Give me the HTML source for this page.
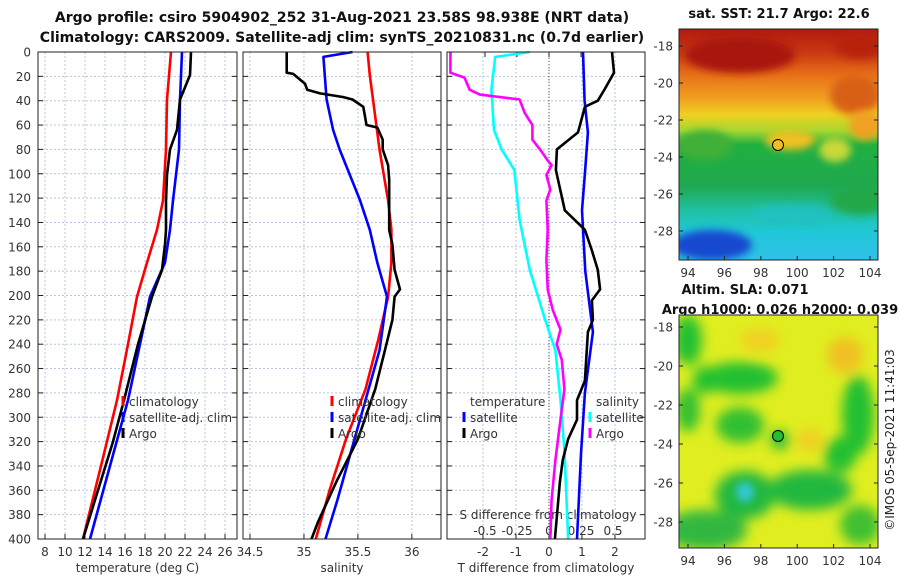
<!DOCTYPE html>
<html><head><meta charset="utf-8"><style>
body{margin:0;background:#fff;width:900px;height:580px;overflow:hidden}
svg{display:block;font-family:"DejaVu Sans","Liberation Sans",sans-serif}
.t{font-size:12px;fill:#333}
</style></head><body>
<svg id="c" width="900" height="580">
<defs>
<filter id="bl" x="-50%" y="-50%" width="200%" height="200%"><feGaussianBlur stdDeviation="6"/></filter>
<filter id="bl2" x="-50%" y="-50%" width="200%" height="200%"><feGaussianBlur stdDeviation="4"/></filter>
<clipPath id="m1"><rect x="679" y="29" width="199" height="231"/></clipPath>
<clipPath id="m2"><rect x="679" y="315" width="199" height="233"/></clipPath>
<linearGradient id="sst" x1="0" y1="0" x2="0" y2="1">
<stop offset="0" stop-color="#b01a10"/><stop offset="0.1" stop-color="#c83812"/><stop offset="0.2" stop-color="#e87018"/>
<stop offset="0.3" stop-color="#f0a020"/><stop offset="0.37" stop-color="#f0d020"/><stop offset="0.44" stop-color="#a8d830"/>
<stop offset="0.5" stop-color="#20b040"/><stop offset="0.68" stop-color="#20a850"/><stop offset="0.78" stop-color="#20c0a0"/>
<stop offset="0.88" stop-color="#20c8d8"/><stop offset="1" stop-color="#30c0e8"/>
</linearGradient>
</defs>
<text x="342" y="22" font-size="14" font-weight="bold" text-anchor="middle" fill="#111">Argo profile: csiro 5904902_252 31-Aug-2021 23.58S 98.938E (NRT data)</text>
<text x="342" y="42" font-size="14" font-weight="bold" text-anchor="middle" fill="#111">Climatology: CARS2009. Satellite-adj clim: synTS_20210831.nc (0.7d earlier)</text>

<g>
<text x="779" y="18" font-size="13" font-weight="bold" text-anchor="middle" fill="#111">sat. SST: 21.7 Argo: 22.6</text>
<g clip-path="url(#m1)">
<rect x="679" y="29" width="199" height="231" fill="url(#sst)"/>
<ellipse cx="740" cy="55" rx="55" ry="18" fill="#a81810" filter="url(#bl2)"/>
<ellipse cx="860" cy="45" rx="25" ry="14" fill="#b82010" filter="url(#bl2)"/>
<ellipse cx="855" cy="95" rx="25" ry="20" fill="#d86018" filter="url(#bl2)"/>
<ellipse cx="705" cy="145" rx="28" ry="15" fill="#40b038" filter="url(#bl2)"/>
<ellipse cx="790" cy="140" rx="25" ry="10" fill="#f0c020" filter="url(#bl2)"/>
<ellipse cx="835" cy="150" rx="16" ry="12" fill="#c8d838" filter="url(#bl2)"/>
<ellipse cx="865" cy="125" rx="16" ry="15" fill="#f0a020" filter="url(#bl2)"/>
<ellipse cx="860" cy="200" rx="30" ry="15" fill="#20a848" filter="url(#bl2)"/>
<ellipse cx="712" cy="245" rx="40" ry="15" fill="#1848d0" filter="url(#bl2)"/>
<ellipse cx="790" cy="215" rx="40" ry="10" fill="#20c0c0" filter="url(#bl2)"/>
</g>
<rect x="679" y="29" width="199" height="231" fill="none" stroke="#222"/>
<circle cx="778" cy="145" r="5.5" fill="#f0c020" stroke="#000"/>
</g>

<g>
<text x="745" y="294" font-size="13" font-weight="bold" text-anchor="middle" fill="#111">Altim. SLA: 0.071</text>
<text x="780" y="314" font-size="13" font-weight="bold" text-anchor="middle" fill="#111">Argo h1000: 0.026 h2000: 0.039</text>
<g clip-path="url(#m2)">
<rect x="679" y="315" width="199" height="233" fill="#e0ee20"/>
<g filter="url(#bl)">
<ellipse cx="688" cy="340" rx="14" ry="25" fill="#20c030"/>
<ellipse cx="740" cy="378" rx="38" ry="16" fill="#20c030"/>
<ellipse cx="705" cy="380" rx="12" ry="14" fill="#20c030"/>
<ellipse cx="688" cy="410" rx="12" ry="22" fill="#30c030"/>
<ellipse cx="740" cy="425" rx="24" ry="18" fill="#30c030"/>
<ellipse cx="858" cy="415" rx="16" ry="40" fill="#20c030"/>
<ellipse cx="840" cy="455" rx="16" ry="18" fill="#20c030"/>
<ellipse cx="745" cy="495" rx="30" ry="24" fill="#20b840"/>
<ellipse cx="810" cy="490" rx="42" ry="20" fill="#20b840"/>
<ellipse cx="705" cy="530" rx="42" ry="20" fill="#30b840"/>
<ellipse cx="860" cy="525" rx="20" ry="20" fill="#40c030"/>
<ellipse cx="780" cy="440" rx="10" ry="10" fill="#30c030"/>
<ellipse cx="845" cy="355" rx="18" ry="18" fill="#f0c020"/>
<ellipse cx="760" cy="340" rx="20" ry="12" fill="#f0d020"/>
<ellipse cx="810" cy="440" rx="14" ry="12" fill="#f0d020"/>
</g>
<ellipse cx="745" cy="492" rx="9" ry="10" fill="#30c8d0" filter="url(#bl2)"/>
</g>
<rect x="679" y="315" width="199" height="233" fill="none" stroke="#222"/>
<circle cx="778" cy="436" r="5.5" fill="#20c030" stroke="#000"/>
</g>
<text transform="translate(894,440) rotate(-90)" font-size="12" text-anchor="middle" fill="#222">©IMOS 05-Sep-2021 11:41:03</text>
</svg>
<script>
// ---- data (depth in m) ----
const depthTicks=[0,20,40,60,80,100,120,140,160,180,200,220,240,260,280,300,320,340,360,380,400];
const tTickLabels=[8,10,12,14,16,18,20,22,24,26];
const sTickLabels=[34.5,35,35.5,36];
const dTTicks=[-2,-1,0,1,2];
const dSTicks=[-0.5,-0.25,0,0.25,0.5];
const dSTickText=["-0.5","-0.25","0","0.25","0.5"];
const latTicks=[-18,-20,-22,-24,-26,-28];
const lonTicks=[94,96,98,100,102,104];

const tClimDepth=[0,39,80,122,134,146,173,201,240,286,340,400];
const tClim=[20.6,20.2,20.1,19.8,19.5,19.2,18.2,17.2,16.3,15.2,13.6,11.8];
const tSatDepth=[0,39,80,122,146,173,201,240,286,340,400];
const tSat=[21.7,21.5,21.4,20.8,20.5,20.0,18.5,17.5,16.3,14.5,12.5];
const tArgoDepth=[0,19,39,64,80,101,122,146,158,179,201,240,286,320,360,400];
const tArgo=[22.6,22.5,21.5,21.2,20.5,20.2,20.1,20.1,20.0,19.7,18.7,17.3,15.9,14.8,13.3,11.8];

const sClimDepth=[0,19,39,80,122,146,173,201,236,277,318,359,400];
const sClim=[35.59,35.61,35.64,35.70,35.78,35.81,35.81,35.78,35.69,35.57,35.39,35.24,35.11];
const sSatDepth=[0,4,39,64,80,122,146,173,201,245,286,327,368,400];
const sSat=[35.45,35.18,35.21,35.27,35.33,35.52,35.61,35.68,35.77,35.70,35.57,35.44,35.31,35.20];
const sArgoDepth=[0,17,18,26,31,34,37,39,45,60,62,72,80,93,105,146,158,179,195,201,220,245,277,318,353,386,400];
const sArgo=[34.84,34.84,34.90,35.01,35.03,35.15,35.36,35.45,35.55,35.58,35.68,35.73,35.73,35.78,35.79,35.79,35.82,35.84,35.89,35.84,35.82,35.75,35.66,35.50,35.30,35.13,35.07];

const dTSatDepth=[0,40,66,100,130,180,230,280,330,400];
const dTSat=[1.03,1.08,1.18,1.09,1.0,1.1,1.33,1.09,0.97,0.85];
const dTArgoDepth=[0,17,30,40,45,66,80,97,130,146,163,179,195,204,220,230,270,286,302,318,335,353,400];
const dTArgo=[1.91,1.97,1.70,1.48,1.09,0.88,0.24,0.21,0.48,1.09,1.30,1.48,1.55,1.30,1.33,1.18,1.09,0.85,0.85,0.58,0.42,0.33,0.18];
const dSSatDepth=[0,4,31,64,80,97,138,179,220,245,286,327,400];
const dSSat=[-0.15,-0.42,-0.45,-0.43,-0.37,-0.27,-0.23,-0.15,-0.03,0.05,0.09,0.12,0.15];
const dSArgoDepth=[0,7,17,21,31,35,39,50,60,72,80,89,93,101,113,122,146,171,195,212,228,240,253,277,302,335,368,400];
const dSArgo=[-0.77,-0.77,-0.77,-0.66,-0.62,-0.54,-0.23,-0.19,-0.13,-0.13,-0.07,-0.01,0.02,-0.02,0.01,-0.02,-0.01,-0.02,-0.01,0.03,0.09,0.06,0.10,0.12,0.09,0.05,0.02,0.01];

const NS='http://www.w3.org/2000/svg';
const svg=document.getElementById('c');
function mk(tag,at,parent){const e=document.createElementNS(NS,tag);for(const k in at)e.setAttribute(k,at[k]);(parent||svg).appendChild(e);return e;}
const Y0=52,Y1=539;
const yD=d=>Y0+(d/400)*(Y1-Y0);
const panels=[
 {x0:38,x1:237,v0:7.3,v1:27.2,ticks:tTickLabels,label:'temperature (deg C)',name:'temperature-panel'},
 {x0:243,x1:441,v0:34.435,v1:36.27,ticks:sTickLabels,label:'salinity',name:'salinity-panel'},
 {x0:447,x1:645,v0:-3.09,v1:2.91,ticks:dTTicks,label:'T difference from climatology',name:'difference-panel'}
];
panels.forEach(p=>{p.xs=v=>p.x0+(v-p.v0)/(p.v1-p.v0)*(p.x1-p.x0);});
const dS=v=>549+v*128;

panels.forEach(p=>{
 const g=mk('g',{});
 
 
 depthTicks.forEach(d=>{ if(d>0&&d<400){const l=mk('line',{x1:p.x0,x2:p.x1,y1:yD(d),y2:yD(d),stroke:'#b8c4e0','stroke-width':1,'stroke-dasharray':'2,2'},g);
   
   }
   mk('line',{x1:p.x0,x2:p.x0+5,y1:yD(d),y2:yD(d),stroke:'#222'},g);
   mk('line',{x1:p.x1,x2:p.x1-5,y1:yD(d),y2:yD(d),stroke:'#222'},g);});
 p.ticks.forEach(v=>{const x=p.xs(v);
   if(x>p.x0+1&&x<p.x1-1){const l=mk('line',{x1:x,x2:x,y1:Y0,y2:Y1,stroke:'#b8c4e0','stroke-dasharray':'2,2'},g);
   
   }
   mk('line',{x1:x,x2:x,y1:Y1,y2:Y1-5,stroke:'#222'},g);
   const t=mk('text',{x:x,y:556,'text-anchor':'middle',class:'t'},g);t.textContent=v;
   
   });
 const lb=mk('text',{x:(p.x0+p.x1)/2,y:572,'text-anchor':'middle',class:'t'},g);lb.textContent=p.label;
 
 
});
depthTicks.forEach(d=>{const t=mk('text',{x:31,y:yD(d)+4.5,'text-anchor':'end',class:'t'});t.textContent=d;
 
 });
const zl=mk('line',{x1:549,x2:549,y1:Y0,y2:Y1,stroke:'#555','stroke-dasharray':'1,2'});


dSTicks.forEach((v,i)=>{const t=mk('text',{x:dS(v),y:535,'text-anchor':'middle',class:'t'});t.textContent=dSTickText[i];
 
 
 mk('line',{x1:dS(v),x2:dS(v),y1:Y0,y2:Y0+5,stroke:'#222'});});
const st=mk('text',{x:548,y:519,'text-anchor':'middle',class:'t'});st.textContent='S difference from climatology';



function line(depths,vals,xf,color,name){
 const pts=depths.map((d,i)=>xf(vals[i]).toFixed(1)+','+yD(d).toFixed(1)).join(' ');
 const l=mk('polyline',{points:pts,fill:'none',stroke:color,'stroke-width':2.6,'stroke-linejoin':'round'});
 
 
}
const P=panels;
line(tClimDepth,tClim,P[0].xs,'#ff0000','temperature-climatology-line');
line(tSatDepth,tSat,P[0].xs,'#0000ff','temperature-satellite-line');
line(tArgoDepth,tArgo,P[0].xs,'#000','temperature-argo-line');
line(sClimDepth,sClim,P[1].xs,'#ff0000','salinity-climatology-line');
line(sSatDepth,sSat,P[1].xs,'#0000ff','salinity-satellite-line');
line(sArgoDepth,sArgo,P[1].xs,'#000','salinity-argo-line');
line(dSSatDepth,dSSat,dS,'#00ffff','s-diff-satellite-line');
line(dSArgoDepth,dSArgo,dS,'#ff00ff','s-diff-argo-line');
line(dTSatDepth,dTSat,P[2].xs,'#0000ff','t-diff-satellite-line');
line(dTArgoDepth,dTArgo,P[2].xs,'#000','t-diff-argo-line');

panels.forEach(p=>{const r=mk('rect',{x:p.x0,y:Y0,width:p.x1-p.x0,height:Y1-Y0,fill:'none',stroke:'#222'});
 
 });

function leg(x,y,color,text,name){
 mk('line',{x1:x,x2:x,y1:y-10,y2:y,stroke:color,'stroke-width':3});
 const t=mk('text',{x:x+6,y:y,class:'t','font-size':'13'});t.textContent=text;
 
 
}
leg(123,406,'#ff0000','climatology','legend-climatology');
leg(123,422,'#0000ff','satellite-adj. clim','legend-satellite');
leg(123,438,'#000','Argo','legend-argo');
leg(332,406,'#ff0000','climatology','legend-climatology-sal');
leg(332,422,'#0000ff','satellite-adj. clim','legend-satellite-sal');
leg(332,438,'#000','Argo','legend-argo-sal');
const lt=mk('text',{x:470,y:406,class:'t','font-size':'13'});lt.textContent='temperature';


leg(464,422,'#0000ff','satellite','legend-t-satellite');
leg(464,438,'#000','Argo','legend-argo-t');
const ls=mk('text',{x:596,y:406,class:'t','font-size':'13'});ls.textContent='salinity';


leg(590,422,'#00ffff','satellite','legend-s-satellite');
leg(590,438,'#ff00ff','Argo','legend-s-argo');

[[29,260,46,231,'sst'],[315,548,327,522,'sla']].forEach(m=>{
 const [top,bot,l0,l1,nm]=m;
 latTicks.forEach((v,i)=>{const y=l0+(l1-l0)*i/5;
  mk('line',{x1:679,x2:683,y1:y,y2:y,stroke:'#222'});mk('line',{x1:878,x2:874,y1:y,y2:y,stroke:'#222'});
  const t=mk('text',{x:673,y:y+4.5,'text-anchor':'end',class:'t'});t.textContent=v;
  
  });
 lonTicks.forEach((v,i)=>{const x=688+(870-688)*i/5;
  mk('line',{x1:x,x2:x,y1:bot,y2:bot-4,stroke:'#222'});
  const t=mk('text',{x:x,y:bot+17,'text-anchor':'middle',class:'t'});t.textContent=v;
  
  });
});
</script>
</body></html>
